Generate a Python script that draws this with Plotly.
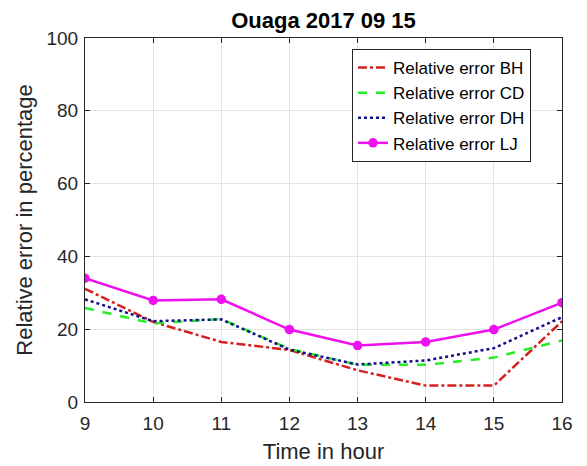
import plotly.graph_objects as go

hours = [9, 10, 11, 12, 13, 14, 15, 16]
err_bh = [31.1, 22.0, 16.5, 14.3, 8.7, 4.5, 4.5, 22.2]
err_cd = [25.8, 21.6, 22.8, 14.6, 10.2, 10.2, 12.2, 16.9]
err_dh = [28.2, 22.2, 22.7, 14.4, 10.3, 11.4, 14.8, 23.3]
err_lj = [34.0, 27.9, 28.2, 19.9, 15.5, 16.5, 19.9, 27.3]

fig = go.Figure()
fig.add_trace(go.Scatter(x=hours, y=err_bh, mode="lines", name="Relative error BH",
                         line=dict(color="#d42020", width=2.5, dash="dashdot")))
fig.add_trace(go.Scatter(x=hours, y=err_cd, mode="lines", name="Relative error CD",
                         line=dict(color="#22ee22", width=2.5, dash="dash")))
fig.add_trace(go.Scatter(x=hours, y=err_dh, mode="lines", name="Relative error DH",
                         line=dict(color="#101090", width=2.5, dash="dot")))
fig.add_trace(go.Scatter(x=hours, y=err_lj, mode="lines+markers", name="Relative error LJ",
                         line=dict(color="#ee10ee", width=2.5),
                         marker=dict(color="#ee10ee", size=9.5, symbol="circle")))

axis_common = dict(showline=True, linecolor="#262626", linewidth=1.2, mirror="ticks",
                   ticks="inside", ticklen=5, tickcolor="#262626",
                   showgrid=True, gridcolor="#e3e3e3", gridwidth=1, zeroline=False,
                   tickfont=dict(family="Liberation Sans, Arial", size=19, color="#262626"))

fig.update_layout(
    width=587, height=466,
    paper_bgcolor="white", plot_bgcolor="white",
    margin=dict(l=85, r=25, t=38, b=64),
    font=dict(family="Liberation Sans, Arial", color="#262626"),
    title=dict(text="<b>Ouaga 2017 09 15</b>", x=(85 + 562) / 2 / 587, xanchor="center",
               y=1 - 20 / 466, yanchor="middle", yref="container",
               font=dict(size=22, color="#000000")),
    xaxis=dict(range=[9, 16], tickvals=hours, ticktext=[str(h) for h in hours],
               ticklabelstandoff=4, automargin=False,
               title=dict(text="Time in hour", font=dict(size=22, color="#262626"), standoff=10),
               **axis_common),
    yaxis=dict(range=[0, 100], tickvals=[0, 20, 40, 60, 80, 100],
               ticklabelstandoff=2, automargin=False,
               title=dict(text="Relative error in percentage", font=dict(size=22, color="#262626"), standoff=7),
               **axis_common),
    legend=dict(x=(352 - 85) / 477, y=(401.5 - 49) / 363.5, xanchor="left", yanchor="top",
                bgcolor="white", bordercolor="#262626", borderwidth=1,
                font=dict(size=17, color="#000000"), tracegroupgap=0),
    showlegend=True,
)

fig.write_html("out.html")
